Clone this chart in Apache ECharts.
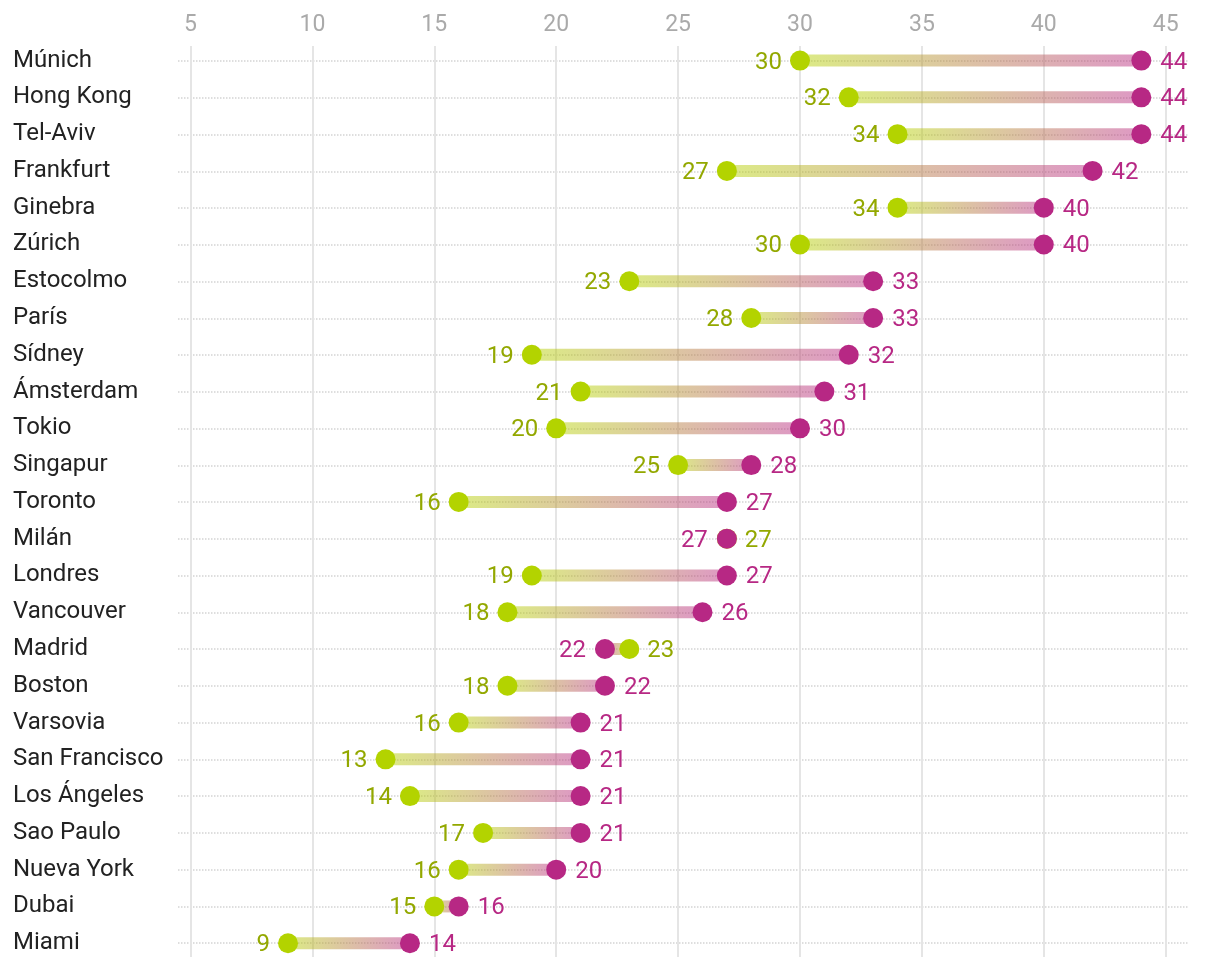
<!DOCTYPE html>
<html><head><meta charset="utf-8">
<script src="https://cdn.jsdelivr.net/npm/echarts@6/dist/echarts.min.js"></script>
<style>html,body{margin:0;padding:0;background:#fff}#c{width:1220px;height:968px}</style>
</head><body><div id="c"></div>
<script>
const cities = ['Múnich','Hong Kong','Tel-Aviv','Frankfurt','Ginebra','Zúrich','Estocolmo','París','Sídney','Ámsterdam','Tokio','Singapur','Toronto','Milán','Londres','Vancouver','Madrid','Boston','Varsovia','San Francisco','Los Ángeles','Sao Paulo','Nueva York','Dubai','Miami'];
const startValues = [30,32,34,27,34,30,23,28,19,21,20,25,16,27,19,18,23,18,16,13,14,17,16,15,9];
const endValues   = [44,44,44,42,40,40,33,33,32,31,30,28,27,27,27,26,22,22,21,21,21,21,20,16,14];
const xTicks = [5,10,15,20,25,30,35,40,45];

const GREEN = '#b3d300', GREEN_TXT = '#93a800', MAG = '#b72884';
const FONT = 'Roboto';

const chart = echarts.init(document.getElementById('c'), null, {renderer:'canvas'});
const greenData = cities.map((c,i)=>({value:[startValues[i], i], label:{position: startValues[i] >= endValues[i] ? 'right' : 'left'}}));
const magData = cities.map((c,i)=>({value:[endValues[i], i], label:{position: endValues[i] <= startValues[i] ? 'left' : 'right'}}));
const lineData = cities.map((c,i)=>[startValues[i], endValues[i], i]);

chart.setOption({
  animation:false,
  textStyle:{fontFamily:FONT},
  grid:[
    {left:190.5, right:54.3, top:42.2, bottom:6.4},
    {left:178, right:32, top:61, bottom:25},
    {left:190.5, right:54.3, top:46, bottom:11}
  ],
  xAxis:[
    {gridIndex:0, type:'value', min:5, max:45, interval:5, show:false},
    {gridIndex:1, type:'value', min:0, max:1, show:false},
    {gridIndex:2, type:'value', min:xTicks[0], max:xTicks[xTicks.length-1], interval:5, position:'top',
     axisLine:{show:false}, axisTick:{show:false},
     axisLabel:{color:'#aaaaaa', fontSize:23, fontFamily:FONT, margin:9},
     splitLine:{show:true, lineStyle:{color:'#e5e5e5', width:2}}}
  ],
  yAxis:[
    {gridIndex:0, type:'category', data:cities, inverse:true,
     axisLine:{show:false}, axisTick:{show:false}, splitLine:{show:false},
     axisLabel:{color:'#222', fontSize:24, fontFamily:FONT, align:'left', margin:177.5}},
    {gridIndex:1, type:'category', data:cities, inverse:true, boundaryGap:false,
     axisLine:{show:false}, axisTick:{show:false}, axisLabel:{show:false},
     splitLine:{show:true, interval:0, lineStyle:{color:'#d4d4d4', type:'dotted', width:1.5}}},
    {gridIndex:2, type:'value', show:false}
  ],
  series:[
    {type:'custom', xAxisIndex:0, yAxisIndex:0, data:lineData, z:2,
     renderItem:function(params, api){
       const i = api.value(2);
       const p1 = api.coord([api.value(0), i]);
       const p2 = api.coord([api.value(1), i]);
       const dx = p2[0]-p1[0];
       return {type:'line', shape:{x1:p1[0], y1:p1[1], x2:p2[0], y2:p2[1]},
         style:{lineWidth:12, stroke: dx === 0 ? 'rgba(0,0,0,0)' : new echarts.graphic.LinearGradient(p1[0],0,p2[0],0,[
           {offset:0,color:'rgba(181,212,0,0.48)'},{offset:1,color:'rgba(185,40,132,0.48)'}], true)}};
     }},
    {type:'scatter', name:'start', xAxisIndex:0, yAxisIndex:0, data:greenData, symbolSize:20, z:3,
     itemStyle:{color:GREEN, opacity:1},
     label:{show:true, formatter:p=>p.value[0], color:GREEN_TXT, fontSize:24, fontFamily:FONT, distance:8, offset:[0,2]}},
    {type:'scatter', name:'end', xAxisIndex:0, yAxisIndex:0, data:magData, symbolSize:20, z:4,
     itemStyle:{color:MAG, opacity:1},
     label:{show:true, formatter:p=>p.value[0], color:MAG, fontSize:24, fontFamily:FONT, distance:9, offset:[0,2]}}
  ]
});
</script></body></html>
